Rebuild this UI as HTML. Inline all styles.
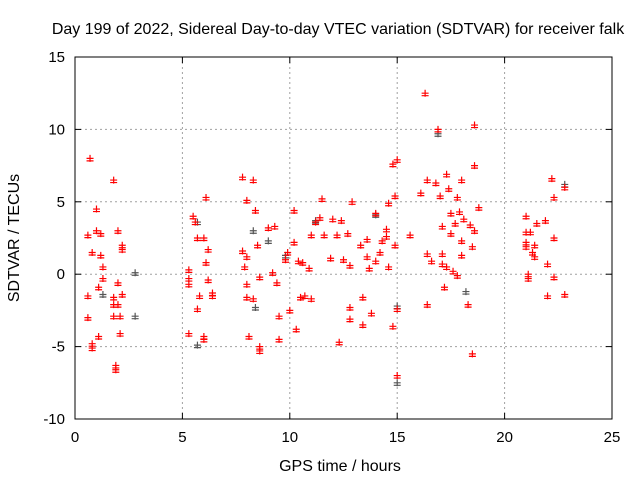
<!DOCTYPE html>
<html><head><meta charset="utf-8"><style>
body{margin:0;background:#fff;}
svg{display:block;font-family:"Liberation Sans",sans-serif;}
</style></head><body>
<svg id="chart" width="640" height="480">
<text x="338" y="34" font-size="16" text-anchor="middle">Day 199 of 2022, Sidereal Day-to-day VTEC variation (SDTVAR) for receiver falk</text>
<g id="grid"></g><g id="axes"></g><g id="gray"></g><g id="red"></g>
<text x="340" y="471" font-size="16" text-anchor="middle">GPS time / hours</text>
<text transform="translate(19,238) rotate(-90)" font-size="16" text-anchor="middle">SDTVAR / TECUs</text>
</svg>
<script>
const xTicks=[0,5,10,15,20,25];
const yTicks=[-10,-5,0,5,10,15];
const redX=[0.7,0.6,0.6,0.6,0.8,0.8,0.8,1.0,1.0,1.1,1.2,1.2,1.3,1.1,1.3,1.8,1.8,1.8,1.9,1.9,2.0,2.0,2.0,2.1,2.2,2.2,2.2,2.1,1.8,
5.3,5.3,5.3,5.3,5.5,5.6,5.7,5.7,5.8,6.1,6.0,6.2,6.1,6.2,6.4,6.4,6.0,6.0,7.8,7.8,7.9,8.0,8.0,8.0,8.0,8.1,8.3,8.4,8.5,8.3,8.6,8.6,8.6,
9.0,9.3,9.2,9.4,9.5,9.5,9.8,9.9,10.0,10.2,10.2,10.3,10.4,10.5,10.6,10.7,10.9,11.0,11.0,11.2,11.4,11.5,11.6,11.9,12.0,12.2,12.3,12.4,12.5,12.7,12.9,12.8,12.8,12.8,13.3,13.4,13.4,13.6,13.6,13.7,13.8,14.0,14.0,14.2,14.3,14.5,14.5,14.6,14.6,14.8,14.8,14.9,14.9,15.0,15.0,15.0,15.6,
16.1,16.3,16.4,16.4,16.4,16.6,16.9,16.8,17.0,17.1,17.1,17.2,17.1,17.3,17.4,17.5,17.5,17.6,17.7,17.8,17.9,18.0,18.0,18.0,18.1,18.3,18.4,18.5,18.6,18.6,18.5,18.6,18.8,17.8,17.3,
21.0,21.0,21.0,21.0,21.1,21.1,21.2,21.3,21.4,21.5,21.9,22.0,22.0,22.2,22.3,22.3,22.3,22.8,22.8,21.4];
const redY=[8.0,2.7,-1.5,-3.0,-4.8,-5.1,1.5,4.5,3.0,-0.9,2.8,1.3,0.5,-4.3,-0.3,6.5,-1.6,-2.9,-6.3,-6.6,-2.1,3.0,-0.6,-2.9,2.0,1.7,-1.4,-4.1,-2.1,
0.3,-0.3,-0.7,-4.1,4.0,3.6,2.5,-2.4,-1.5,5.3,2.5,1.7,0.8,-0.4,-1.3,-1.5,-4.3,-4.5,6.7,1.6,0.5,1.2,5.1,-0.7,-1.6,-4.3,6.5,4.4,2.0,-1.7,-5.3,-0.2,-5.0,
3.2,3.3,0.1,-0.6,-2.9,-4.5,1.0,1.5,-2.5,4.4,2.2,-3.8,0.9,-1.6,0.8,-1.5,0.4,-1.7,2.7,3.6,3.9,5.2,2.7,1.1,3.8,2.7,-4.7,3.7,1.0,2.8,5.0,0.6,-2.3,-3.1,2.0,-1.6,-3.5,1.2,2.4,0.4,-2.7,4.2,0.9,1.5,2.3,3.1,2.6,4.9,0.5,7.6,-3.6,2.0,5.4,7.9,-2.4,-7.0,2.7,
5.6,12.5,6.5,1.4,-2.1,0.9,10.0,6.3,5.4,3.3,0.7,-0.9,1.4,6.9,5.9,4.2,2.8,0.2,3.5,5.3,4.3,6.5,2.3,1.3,3.8,-2.1,3.4,1.9,10.3,7.5,-5.5,3.0,4.6,-0.1,0.5,
4.0,2.9,2.2,1.9,0.0,-0.3,2.9,1.5,1.2,3.5,3.7,0.7,-1.5,6.6,5.3,2.5,-0.2,6.0,-1.4,2.0];
const grayX=[2.8,2.8,1.3,5.7,5.7,8.3,8.4,9.8,11.2,14.0,15.0,15.0,16.9,18.2,22.8,9.0];
const grayY=[0.1,-2.9,-1.4,3.6,-4.9,3.0,-2.3,1.3,3.7,4.1,-7.5,-2.2,9.7,-1.2,6.2,2.3];
const X0=75,X1=612,Y0=419,Y1=57;
const sx=v=>X0+(v-0)/25*(X1-X0);
const sy=v=>Y0-(v+10)/25*(Y0-Y1);
const NS="http://www.w3.org/2000/svg";
function mk(t,a,p){const e=document.createElementNS(NS,t);for(const k in a)e.setAttribute(k,a[k]);p.appendChild(e);return e;}
const grid=document.getElementById('grid'),axes=document.getElementById('axes');
xTicks.forEach(t=>{const x=sx(t);
 if(t>0&&t<25){const l=mk('line',{x1:x,x2:x,y1:Y1,y2:Y0,stroke:'#a0a0a0','stroke-dasharray':'2,3'},grid);
 
 }
 mk('line',{x1:x,x2:x,y1:Y0,y2:Y0-6,stroke:'#000'},axes);mk('line',{x1:x,x2:x,y1:Y1,y2:Y1+6,stroke:'#000'},axes);
 const tx=mk('text',{x:x,y:Y0+23,'font-size':15,'text-anchor':'middle'},axes);tx.textContent=t;
 
 });
yTicks.forEach(t=>{const y=sy(t);
 if(t>-10&&t<15){const l=mk('line',{x1:X0,x2:X1,y1:y,y2:y,stroke:'#a0a0a0','stroke-dasharray':'2,3'},grid);
 
 }
 mk('line',{x1:X0,x2:X0+6,y1:y,y2:y,stroke:'#000'},axes);mk('line',{x1:X1,x2:X1-6,y1:y,y2:y,stroke:'#000'},axes);
 const tx=mk('text',{x:X0-10,y:y+5,'font-size':15,'text-anchor':'end'},axes);tx.textContent=t;
 
 });
const fr=mk('rect',{x:X0,y:Y1,width:X1-X0,height:Y0-Y1,fill:'none',stroke:'#000'},axes);


function plus(x,y,c,g){const p=mk('path',{d:`M${x-3.5} ${y}h7M${x} ${y-3.5}v7M${x-3.5} ${y+2.5}h7`,stroke:c,'stroke-width':1.2,fill:'none'},g);return p;}
const gg=document.getElementById('gray');
grayX.forEach((v,i)=>{const p=plus(sx(v),sy(grayY[i]),'#555',gg);
 
 });
const rg=document.getElementById('red');
redX.forEach((v,i)=>{const p=plus(sx(v),sy(redY[i]),'#ff0000',rg);
 
 });
</script>
</body></html>
